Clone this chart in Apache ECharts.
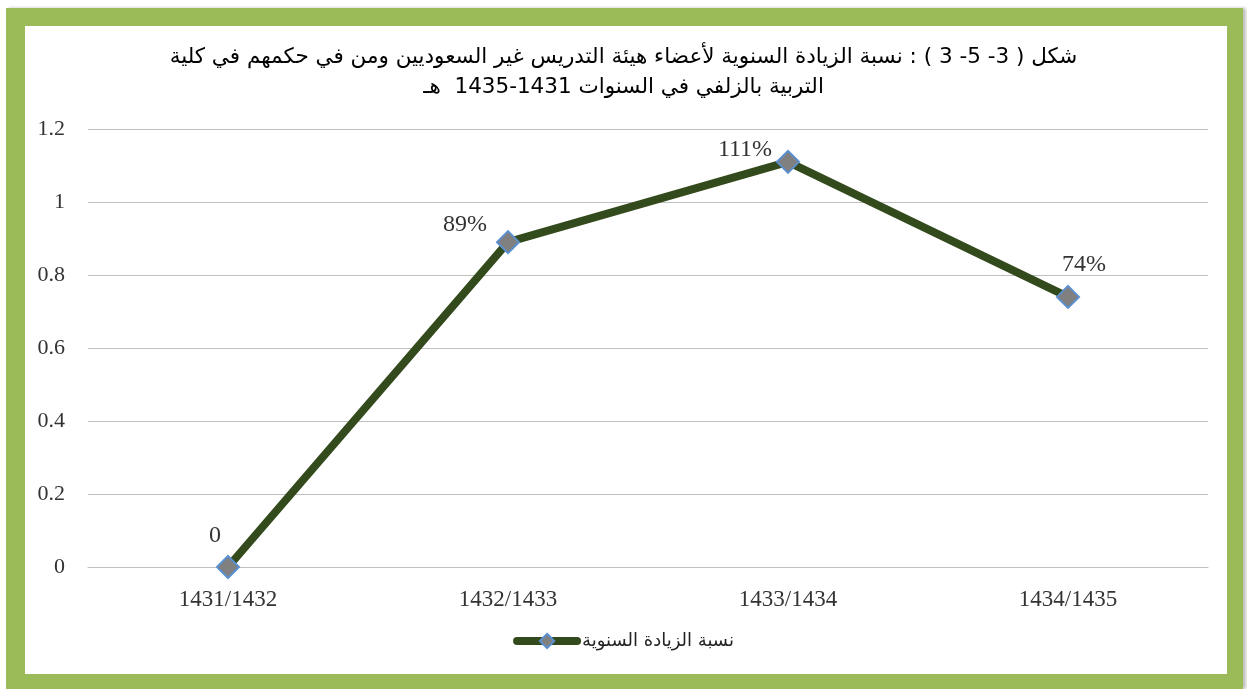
<!DOCTYPE html>
<html>
<head>
<meta charset="utf-8">
<script src="https://cdn.jsdelivr.net/npm/echarts@6/dist/echarts.min.js"></script>
<style>
html,body{margin:0;padding:0;background:#fff;width:1247px;height:689px;overflow:hidden;}
#frame{position:absolute;left:6px;top:8px;width:1237px;height:681px;background:#9bbb59;box-shadow:3px 0 3px rgba(0,0,0,0.25);}
#inner{position:absolute;left:25px;top:26px;width:1202px;height:648px;background:#fff;}
#chart{position:absolute;left:0;top:0;width:1247px;height:689px;}
</style>
</head>
<body>
<div id="frame"></div>
<div id="inner"></div>
<div id="chart"></div>
<script>
const categories = ['1431/1432', '1432/1433', '1433/1434', '1434/1435'];
const values = [0, 0.89, 1.11, 0.74];
const pointLabels = ['0', '89%', '111%', '74%'];
const seriesName = 'نسبة الزيادة السنوية';
const titleLine1 = 'شكل ( 3- 5- 3 ) : نسبة الزيادة السنوية لأعضاء هيئة التدريس غير السعوديين ومن في حكمهم في كلية';
const titleLine2 = 'التربية بالزلفي في السنوات 1431-1435  هـ';
const labelOffsets = [[-13, -31], [-43, -17], [-43, -12], [16, -32]];

const RLE = '\u202B', PDF = '\u202C';
const chart = echarts.init(document.getElementById('chart'), null, {renderer: 'canvas'});
chart.setOption({
  backgroundColor: 'transparent',
  animation: false,
  title: {
    text: RLE + titleLine1 + PDF + '\n' + RLE + titleLine2 + PDF,
    left: 'center',
    top: 37,
    textStyle: {fontFamily: 'DejaVu Sans', fontSize: 21.5, fontWeight: 'normal', color: '#000', lineHeight: 30}
  },
  grid: {left: 88, right: 39, top: 129, bottom: 122, containLabel: false},
  legend: {
    bottom: 34,
    left: 'center',
    itemWidth: 60,
    itemHeight: 18,
    itemGap: 4,
    lineStyle: {width: 8, cap: 'round'},
    textStyle: {fontFamily: 'DejaVu Sans', fontSize: 18, color: '#222'},
    data: [{name: seriesName}],
    formatter: function (n) { return RLE + n + PDF; }
  },
  xAxis: {
    type: 'category',
    data: categories,
    boundaryGap: true,
    axisLine: {show: true, lineStyle: {color: '#bfbfbf', width: 1}},
    axisTick: {show: false},
    axisLabel: {fontFamily: 'Liberation Serif', fontSize: 23, color: '#333', margin: 21}
  },
  yAxis: {
    type: 'value',
    min: 0,
    max: 1.2,
    interval: 0.2,
    axisLine: {show: false},
    axisTick: {show: false},
    axisLabel: {fontFamily: 'Liberation Serif', fontSize: 22, color: '#333', margin: 23,
      formatter: function (v) { return String(Math.round(v * 10) / 10); }},
    splitLine: {lineStyle: {color: '#bfbfbf', width: 1}}
  },
  series: [{
    name: seriesName,
    type: 'line',
    data: values.map(function (v, i) {
      return {value: v, label: {offset: labelOffsets[i]}};
    }),
    lineStyle: {color: '#334a1c', width: 8},
    itemStyle: {color: '#808080', borderColor: '#5b8fd0', borderWidth: 2},
    symbol: 'diamond',
    symbolSize: 22,
    showAllSymbol: true,
    label: {
      show: true,
      position: 'inside',
      fontFamily: 'Liberation Serif',
      fontSize: 24,
      color: '#333',
      formatter: function (p) { return pointLabels[p.dataIndex]; }
    },
    z: 3
  }]
});
</script>
</body>
</html>
